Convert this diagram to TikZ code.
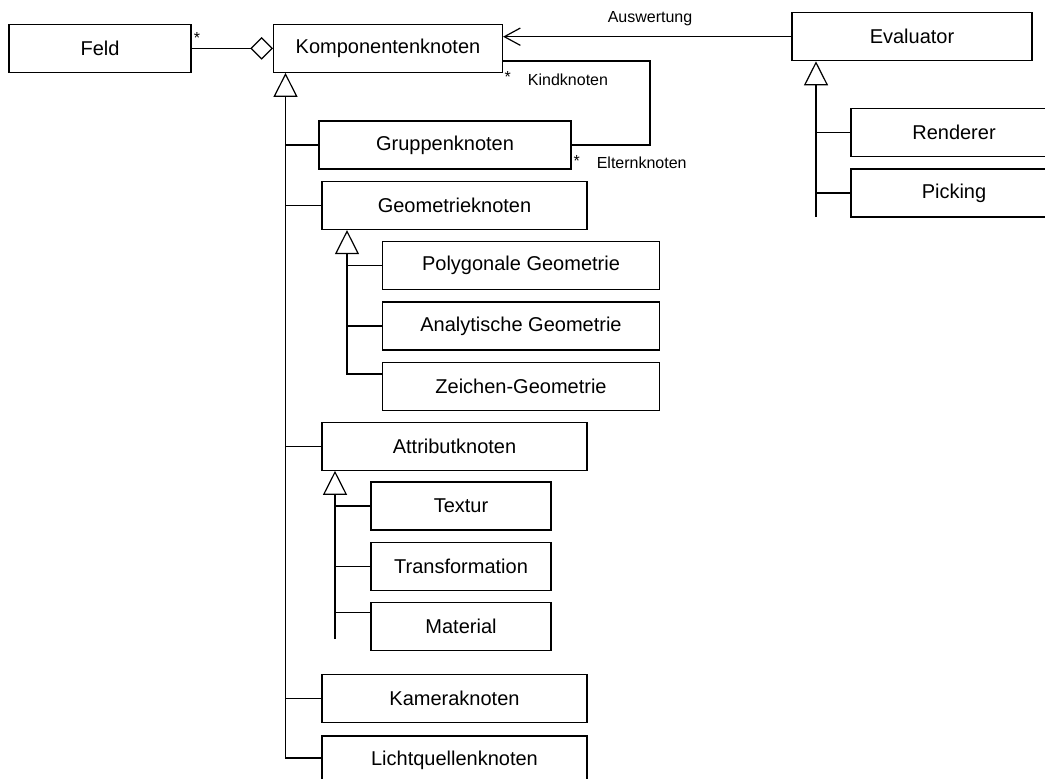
\documentclass[tikz,border=0pt]{standalone}
\usepackage{fontspec}
\setmainfont{Liberation Sans}
\usetikzlibrary{arrows.meta,calc}
\begin{document}
\begin{tikzpicture}[x=0.75pt,y=-0.75pt,
  cls/.style={draw,line width=0.9pt,inner sep=0pt,minimum height=36pt,
    font=\fontsize{15}{18}\selectfont},
  lbl/.style={inner sep=0pt,font=\fontsize{12}{14}\selectfont},
  conn/.style={line width=0.9pt},
  gen/.style={conn,-{Triangle[open,length=18pt,width=18pt]}},
  agg/.style={conn,-{Diamond[open,length=17pt,width=17pt]}},
  nav/.style={conn,-{Straight Barb[length=12pt,width=13pt]}}]
\useasboundingbox (0,0) rectangle (1045,778);

% classes
\node[cls,minimum width=136.5pt]  (feld)  at (100,48.4)  {Feld};
\node[cls,minimum width=171.75pt] (komp)  at (388,48.3)  {Komponentenknoten};
\node[cls,minimum width=180pt]    (eval)  at (912,36.7)  {Evaluator};
\node[cls,minimum width=154.5pt]  (rend)  at (954,132.5) {Renderer};
\node[cls,minimum width=154.5pt]  (pick)  at (954,193)   {Picking};
\node[cls,minimum width=189pt]    (grp)   at (445,145)   {Gruppenknoten};
\node[cls,minimum width=198.75pt] (geom)  at (454.5,205.5) {Geometrieknoten};
\node[cls,minimum width=207.75pt] (poly)  at (521,265.5) {Polygonale Geometrie};
\node[cls,minimum width=207.75pt] (ana)   at (521,326)   {Analytische Geometrie};
\node[cls,minimum width=207.75pt] (zei)   at (521,386.3) {Zeichen-Geometrie};
\node[cls,minimum width=198.75pt] (attr)  at (454.5,446.2) {Attributknoten};
\node[cls,minimum width=135pt]    (tex)   at (461,506)   {Textur};
\node[cls,minimum width=135pt]    (trans) at (461,566.3) {Transformation};
\node[cls,minimum width=135pt]    (mat)   at (461,626.3) {Material};
\node[cls,minimum width=198.75pt] (kam)   at (454.5,698.5) {Kameraknoten};
\node[cls,minimum width=198.75pt] (licht) at (454.5,760) {Lichtquellenknoten};

% aggregation Feld -> Komponentenknoten
\draw[agg] (feld.east) -- (komp.west |- feld.east);
\node[lbl] (fstar) at (197,38) {*};

% navigation Evaluator -> Komponentenknoten
\draw[nav] (eval.west) -- (komp.east |- eval.west);
\node[lbl] (ausw) at (650,19) {Auswertung};

% parent/child association
\coordinate (kstart) at ($(komp.north east)!0.758!(komp.south east)$);
\coordinate (kx) at (650,100);
\draw[conn] (kstart) -| (kx) |- (grp.east);
\node[lbl] (kstar) at (507.7,76.7) {*};
\node[lbl] (kind)  at (568,80) {Kindknoten};
\node[lbl] (estar) at (576.7,161) {*};
\node[lbl] (eltern) at (641.7,163) {Elternknoten};

% generalisation: Komponentenknoten
\coordinate (t1) at (285.5,0);
\coordinate (lb) at ($(licht.north west)!0.46!(licht.south west)$);
\draw[gen] (lb) -- (t1 |- lb) -- (t1 |- komp.south);
\foreach \n in {grp,geom,attr,kam}
  \draw[conn] (t1 |- \n.west) -- (\n.west);

% generalisation: Geometrieknoten
\coordinate (t2) at (347,0);
\coordinate (zb) at ($(zei.north west)!0.25!(zei.south west)$);
\draw[gen] (zb) -- (t2 |- zb) -- (t2 |- geom.south);
\foreach \n in {poly,ana}
  \draw[conn] (t2 |- \n.west) -- (\n.west);

% generalisation: Attributknoten
\coordinate (t3end) at (335,639);
\coordinate (mb) at ($(mat.north west)!0.22!(mat.south west)$);
\draw[gen] (t3end) -- (t3end |- attr.south);
\foreach \n in {tex,trans}
  \draw[conn] (t3end |- \n.west) -- (\n.west);
\draw[conn] (t3end |- mb) -- (mb);

% generalisation: Evaluator
\coordinate (t4end) at (816,217);
\draw[gen] (t4end) -- (t4end |- eval.south);
\foreach \n in {rend,pick}
  \draw[conn] (t4end |- \n.west) -- (\n.west);
\end{tikzpicture}
\end{document}
